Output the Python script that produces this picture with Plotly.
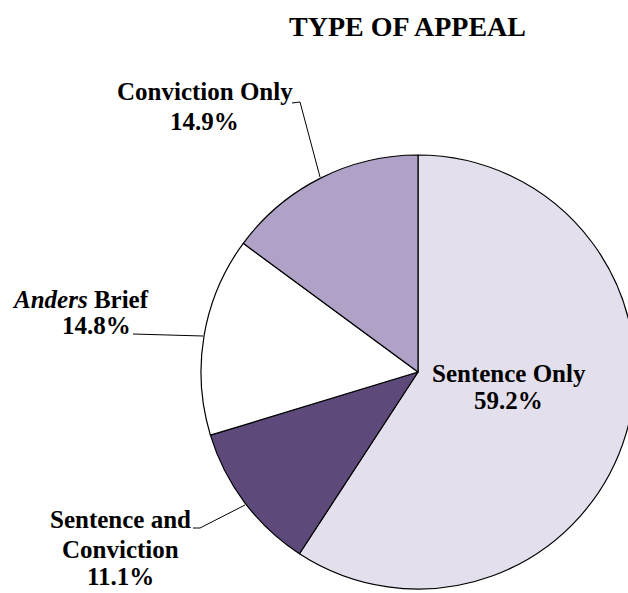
import plotly.graph_objects as go

# Share of appeals by type (percent), listed clockwise from 12 o'clock
labels = ["Sentence Only", "Sentence and Conviction", "Anders Brief", "Conviction Only"]
shares = [59.2, 11.1, 14.8, 14.9]
colors = ["#E4DFEC", "#5E4A7A", "#FFFFFF", "#B0A1C7"]

W, H = 660, 593            # canvas is a bit wider than the view so the pie runs off the right edge
cx, cy, r = 418, 372, 217  # pie centre / radius in pixels

FONT = "Liberation Serif, Times New Roman, serif"


def px(x):
    return x / W


def py(y):
    return 1 - y / H


fig = go.Figure(
    go.Pie(
        labels=labels,
        values=shares,
        sort=False,
        direction="clockwise",
        rotation=0,
        marker=dict(colors=colors, line=dict(color="#000000", width=1.2)),
        textinfo="none",
        hoverinfo="label+percent",
        showlegend=False,
        domain=dict(x=[px(cx - r), px(cx + r)], y=[py(cy + r), py(cy - r)]),
    )
)

pct = {lab: f"{v:.1f}%" for lab, v in zip(labels, shares)}


def text_line(text, x, y, size=25):
    return dict(text=f"<b>{text}</b>", x=px(x), y=py(y), xref="paper", yref="paper",
                showarrow=False, xanchor="center", yanchor="middle",
                font=dict(family=FONT, size=size, color="#000000"))


annotations = [
    text_line("TYPE OF APPEAL", 407, 27, size=28),
    text_line("Sentence Only", 509, 373),
    text_line(pct["Sentence Only"], 508, 400),
    text_line("Conviction Only", 205, 92),
    text_line(pct["Conviction Only"], 204, 122),
    text_line("<i>Anders</i> Brief", 80, 299),
    text_line(pct["Anders Brief"], 96, 325),
    text_line("Sentence and", 121, 519),
    text_line("Conviction", 121, 549),
    text_line(pct["Sentence and Conviction"], 121, 576),
]

# leader lines from the labels to the slices
leaders = [
    [(292, 103), (300, 102), (320, 177)],
    [(133, 334), (203, 336)],
    [(193, 528), (200, 528), (245, 505)],
]
shapes = []
for pts in leaders:
    for (x0, y0), (x1, y1) in zip(pts[:-1], pts[1:]):
        shapes.append(dict(type="line", xref="paper", yref="paper",
                           x0=px(x0), y0=py(y0), x1=px(x1), y1=py(y1),
                           line=dict(color="#000000", width=1)))

fig.update_layout(
    width=W,
    height=H,
    margin=dict(l=0, r=0, t=0, b=0),
    paper_bgcolor="#FFFFFF",
    plot_bgcolor="#FFFFFF",
    annotations=annotations,
    shapes=shapes,
)

fig.write_html(
    "out.html",
    post_script="document.body.style.margin='0';"
                "document.body.style.overflow='hidden';"
                "document.documentElement.style.overflow='hidden';",
)
